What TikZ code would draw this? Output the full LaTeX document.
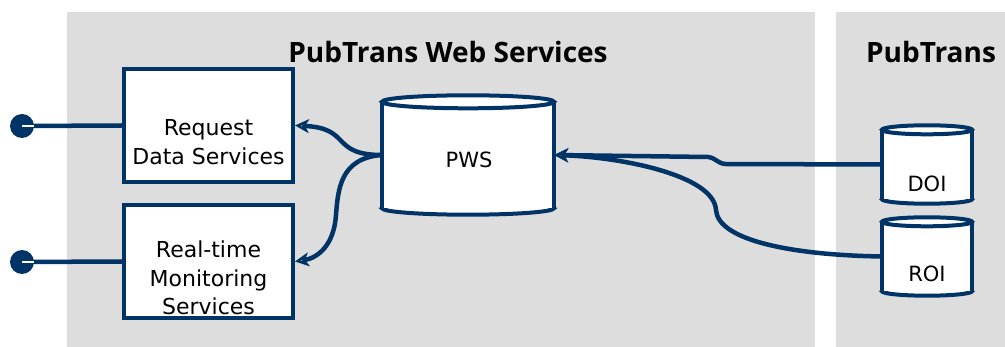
\documentclass[tikz,border=0pt]{standalone}
\usepackage{fontspec}
\setmainfont{DejaVu Sans}
\newfontfamily\titlefont{Open Sans}
\usetikzlibrary{arrows.meta}
\definecolor{navy}{RGB}{0,51,102}
\definecolor{panelgray}{RGB}{221,221,221}
\tikzset{
  conn/.style={draw=navy, line width=4.5pt},
  arr/.style={conn, -{Stealth[open, length=14pt, width=14pt, inset=4pt, line width=2.5pt]}},
  box/.style={draw=navy, line width=4pt, fill=white, minimum width=169pt, minimum height=113pt, inner sep=0pt},
  lbl/.style={font=\fontsize{22}{28.5}\selectfont, align=center, text=black, inner sep=0pt},
  cyllbl/.style={font=\fontsize{21}{24}\selectfont, text=black, inner sep=0pt},
  ttl/.style={font=\titlefont\bfseries\fontsize{28}{30}\selectfont, text=black, inner sep=0pt},
  dot/.style={circle, fill=navy, minimum size=24pt, inner sep=0pt},
  cylbody/.style={inner sep=0pt},
  cylline/.style={draw=navy, line width=4pt, fill=white}
}
\newcommand{\drawcyl}[3]{% node name, x radius, y radius
  \filldraw[cylline] (#1.south) ellipse [x radius=#2pt, y radius=#3pt];
  \fill[white] (#1.north west) rectangle (#1.south east);
  \draw[navy, line width=4pt] (#1.north west) -- (#1.south west);
  \draw[navy, line width=4pt] (#1.north east) -- (#1.south east);
  \filldraw[cylline] (#1.north) ellipse [x radius=#2pt, y radius=#3pt];
}
\begin{document}
\begin{tikzpicture}[x=1pt, y=-1pt]
\useasboundingbox (0,0) rectangle (1005,347);
\fill[panelgray] (67,12) rectangle (815,347);
\fill[panelgray] (836,12) rectangle (1005,347);

\node[ttl, anchor=base] (t1) at (448,63) {PubTrans Web Services};
\node[ttl, anchor=base] (t2) at (931,63) {PubTrans};

% boxes
\node[box] (rds) at (208.5,125.5) {};
\node[box] (rtm) at (208.5,261.5) {};
\node[lbl] (rdsl) at (208.5,142) {Request\\Data Services};
\node[lbl] (rtml) at (208.5,278) {Real-time\\Monitoring\\Services};

% lollipops
\node[dot] (p1) at (22,126) {};
\node[dot] (p2) at (22,262) {};
\draw[conn] (p1.center) -- (rds.west);
\draw[conn] (p2.center) -- (rtm.west);
\draw[white, line width=2pt] (p1.center) -- (p1.east);
\draw[white, line width=2pt] (p2.center) -- (p2.east);

% cylinders
\node[cylbody, minimum width=172pt, minimum height=106pt] (pws) at (468,155) {};
\drawcyl{pws}{86}{6.5}
\node[cyllbl] (pwsl) at (469,160) {PWS};

\node[cylbody, minimum width=90pt, minimum height=69pt] (doi) at (927,164.5) {};
\drawcyl{doi}{45}{4.5}
\node[cyllbl] (doil) at (927,184) {DOI};

\node[cylbody, minimum width=90pt, minimum height=69pt] (roi) at (927,256.5) {};
\drawcyl{roi}{45}{4.5}
\node[cyllbl] (roil) at (927,274) {ROI};

% connectors
\draw[arr] (pws.west) .. controls (330,155) and (352,128) .. (rds.east);
\draw[arr] (pws.west) .. controls (340,158) and (338,190) .. (336,215)
  .. controls (334,245) and (318,258) .. (rtm.east);
\draw[arr] (doi.west) -- (725,164) .. controls (717,163) and (716,158) .. (708,157) -- (pws.east);
\draw[arr] (roi.west) .. controls (790,255) and (718,240) .. (716,210)
  .. controls (714,175) and (620,157) .. (pws.east);
\end{tikzpicture}
\end{document}
